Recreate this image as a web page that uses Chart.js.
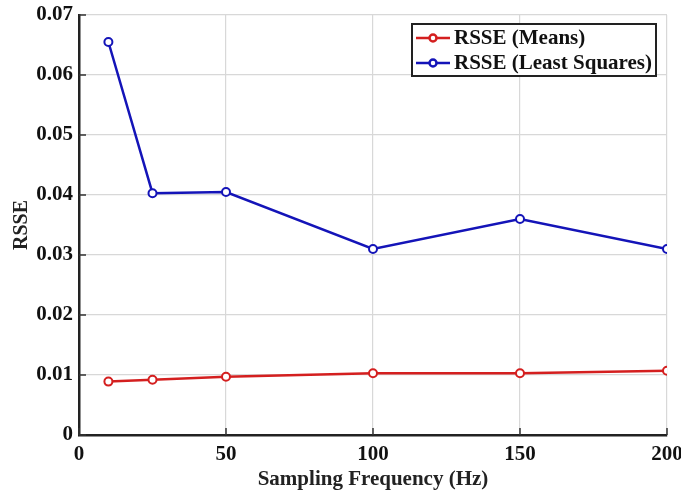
<!DOCTYPE html>
<html>
<head>
<meta charset="utf-8">
<script src="https://cdn.jsdelivr.net/npm/chart.js@4/dist/chart.umd.min.js"></script>
<style>
  html, body { margin: 0; padding: 0; background: #fff; }
  #wrap { width: 681px; height: 490px; }
</style>
</head>
<body>
<div id="wrap"><canvas id="myChart" width="681" height="490"></canvas></div>
<script>
// sampling frequencies (Hz)
const freqs = [10, 25, 50, 100, 150, 200];
// RSSE values
const rsseMeans = [0.0089, 0.0092, 0.0097, 0.0103, 0.0103, 0.0107];
const rsseLeastSquares = [0.0655, 0.0403, 0.0405, 0.0310, 0.0360, 0.0310];
const seriesNames = ['RSSE (Means)', 'RSSE (Least Squares)'];
const seriesColors = ['#d41f1f', '#1414b8'];

const FONT = '"Liberation Serif", "Times New Roman", serif';

const toPoints = (ys) => freqs.map((f, i) => ({x: f, y: ys[i]}));

// short inward tick marks on the left and bottom axes
const innerTicks = {
    id: 'innerTicks',
    afterDatasetsDraw(chart) {
        const ctx = chart.ctx;
        const area = chart.chartArea;
        const xs = chart.scales.x, ys = chart.scales.y;
        ctx.save();
        ctx.strokeStyle = '#333';
        ctx.lineWidth = 1.5;
        ctx.beginPath();
        ys.ticks.forEach(t => {
            const py = ys.getPixelForValue(t.value);
            ctx.moveTo(area.left, py);
            ctx.lineTo(area.left + 7, py);
        });
        xs.ticks.forEach(t => {
            const px = xs.getPixelForValue(t.value);
            ctx.moveTo(px, area.bottom);
            ctx.lineTo(px, area.bottom - 7);
        });
        ctx.stroke();
        ctx.restore();
    }
};

// legend box drawn in the top right corner of the plot, like matlab's
const boxLegend = {
    id: 'boxLegend',
    afterDraw(chart) {
        const ctx = chart.ctx;
        const area = chart.chartArea;
        const w = 244, h = 52;
        const x0 = area.right - 11 - w;
        const y0 = area.top + 9;
        ctx.save();
        ctx.fillStyle = '#fff';
        ctx.fillRect(x0, y0, w, h);
        ctx.strokeStyle = '#222';
        ctx.lineWidth = 2;
        ctx.strokeRect(x0, y0, w, h);
        ctx.font = 'bold 21px ' + FONT;
        ctx.textBaseline = 'middle';
        chart.data.datasets.forEach((ds, i) => {
            const cy = y0 + 14 + i * 25;
            ctx.strokeStyle = ds.borderColor;
            ctx.lineWidth = 2.5;
            ctx.beginPath();
            ctx.moveTo(x0 + 4, cy);
            ctx.lineTo(x0 + 38, cy);
            ctx.stroke();
            ctx.fillStyle = '#fff';
            ctx.beginPath();
            ctx.arc(x0 + 21, cy, 3.5, 0, Math.PI * 2);
            ctx.fill();
            ctx.stroke();
            ctx.fillStyle = '#111';
            ctx.fillText(ds.label, x0 + 42, cy + 1);
        });
        ctx.restore();
    }
};

const datasets = [rsseMeans, rsseLeastSquares].map((ys, i) => ({
    label: seriesNames[i],
    data: toPoints(ys),
    borderColor: seriesColors[i],
    backgroundColor: seriesColors[i],
    borderWidth: 2.5,
    pointRadius: 4,
    pointBorderWidth: 2,
    pointBackgroundColor: '#fff',
    pointBorderColor: seriesColors[i],
    tension: 0,
    fill: false
}));

new Chart(document.getElementById('myChart'), {
    type: 'line',
    data: {datasets: datasets},
    plugins: [innerTicks, boxLegend],
    options: {
        responsive: false,
        animation: false,
        layout: {padding: {top: 15, right: 14, left: 0, bottom: 0}},
        plugins: {
            legend: {display: false},
            tooltip: {enabled: false}
        },
        scales: {
            x: {
                type: 'linear',
                min: 0,
                max: 200,
                ticks: {
                    stepSize: 50,
                    color: '#111',
                    font: {family: FONT, size: 21, weight: 'bold'},
                    padding: 7,
                    maxRotation: 0
                },
                grid: {color: '#d8d8d8', lineWidth: 1.2, tickLength: 0},
                border: {color: '#222', width: 2.5},
                title: {
                    display: true,
                    text: 'Sampling Frequency (Hz)',
                    color: '#222',
                    font: {family: FONT, size: 21, weight: 'bold', lineHeight: 1},
                    padding: {top: 0, bottom: 0}
                },
                afterFit(scale) {
                    scale.height = 55;
                    scale.paddingLeft = 0;
                    scale.paddingRight = 0;
                }
            },
            y: {
                min: 0,
                max: 0.07,
                ticks: {
                    stepSize: 0.01,
                    color: '#111',
                    font: {family: FONT, size: 21, weight: 'bold'},
                    padding: 6,
                    callback: (v) => v === 0 ? '0' : v.toFixed(2)
                },
                grid: {color: '#d8d8d8', lineWidth: 1.2, tickLength: 0},
                border: {color: '#222', width: 2.5},
                title: {
                    display: true,
                    text: 'RSSE',
                    color: '#222',
                    font: {family: FONT, size: 20, weight: 'bold'},
                    padding: {top: 10, bottom: 4}
                },
                afterFit(scale) {
                    scale.width = 79;
                    scale.paddingTop = 0;
                    scale.paddingBottom = 0;
                }
            }
        }
    }
});
</script>
</body>
</html>
